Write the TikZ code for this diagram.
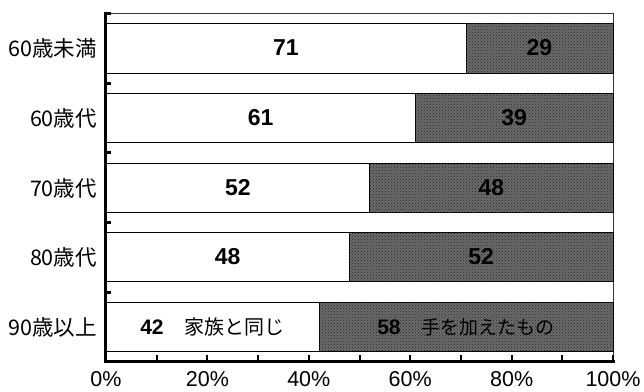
\documentclass[tikz,border=0pt]{standalone}
\usepackage{fontspec}
\setmainfont{Liberation Sans}
\newfontfamily\jp{Noto Sans CJK JP}
\usetikzlibrary{patterns}

\begin{document}
\begin{tikzpicture}[x=5.07pt,y=-1pt,
  own/.style={draw=black,line width=0.8pt,fill=white},
  added/.style={draw=black,line width=0.8pt,fill=black!58,
    postaction={pattern=crosshatch dots,pattern color=black!85}},
  agelabel/.style={left,font=\jp\fontsize{21.5}{25}\selectfont},
  share/.style={font=\bfseries\fontsize{23}{27}\selectfont},
  percent/.style={anchor=base,font=\fontsize{21.5}{25}\selectfont}]
\useasboundingbox (-20.907,0) rectangle (106.114,391);
% frame
\draw [black!80,line width=0.8pt] (0,13) -- (100,13) -- (100,361);
% bars
\draw [own] (0,23.5) rectangle (71,73);
\draw [added] (71,23.5) rectangle (100,73);
\draw [own] (0,93) rectangle (61,142.5);
\draw [added] (61,93) rectangle (100,142.5);
\draw [own] (0,163) rectangle (52,212);
\draw [added] (52,163) rectangle (100,212);
\draw [own] (0,232.5) rectangle (48,281.5);
\draw [added] (48,232.5) rectangle (100,281.5);
\draw [own] (0,302) rectangle (42,351.5);
\draw [added] (42,302) rectangle (100,351.5);
% axes
\draw [line width=3pt] (0,11.5) -- (0,361) -- (100.3,361);
\draw [line width=3pt] (0,13) -- (1,13);
\draw [line width=3pt] (0,83) -- (1,83);
\draw [line width=3pt] (0,152.5) -- (1,152.5);
\draw [line width=3pt] (0,222) -- (1,222);
\draw [line width=3pt] (0,292) -- (1,292);
\draw [line width=2pt] (10,361) -- (10,355);
\draw [line width=2pt] (20,361) -- (20,355);
\draw [line width=2pt] (30,361) -- (30,355);
\draw [line width=2pt] (40,361) -- (40,355);
\draw [line width=2pt] (50,361) -- (50,355);
\draw [line width=2pt] (60,361) -- (60,355);
\draw [line width=2pt] (70,361) -- (70,355);
\draw [line width=2pt] (80,361) -- (80,355);
\draw [line width=2pt] (90,361) -- (90,355);
\draw [line width=2pt] (100,361) -- (100,355);
% age groups
\node [agelabel] (under60) at (-1.1,48) {60歳未満};
\node [agelabel] (sixties) at (-1.1,118) {60歳代};
\node [agelabel] (seventies) at (-1.1,188) {70歳代};
\node [agelabel] (eighties) at (-1.1,257) {80歳代};
\node [agelabel] (over90) at (-1.1,327) {90歳以上};
% shares
\node [share] (own60u) at (35.5,48) {71};
\node [share] (add60u) at (85.5,48) {29};
\node [share] (own60) at (30.5,118) {61};
\node [share] (add60) at (80.5,118) {39};
\node [share] (own70) at (26,188) {52};
\node [share] (add70) at (76,188) {48};
\node [share] (own80) at (24,257) {48};
\node [share] (add80) at (74,257) {52};
\node [share] (own90) at (21,327) {\fontsize{21}{25}\selectfont 42\hspace{1em}{\mdseries\jp\fontsize{20}{24}\selectfont 家族と同じ}};
\node [share] (add90) at (71,327) {\fontsize{21}{25}\selectfont 58\hspace{1em}{\mdseries\jp\fontsize{19}{23}\selectfont 手を加えたもの}};
% percent scale
\node [percent] (p0) at (0,386) {0\%};
\node [percent] (p20) at (20,386) {20\%};
\node [percent] (p40) at (40,386) {40\%};
\node [percent] (p60) at (60,386) {60\%};
\node [percent] (p80) at (80,386) {80\%};
\node [percent] (p100) at (100,386) {100\%};
\end{tikzpicture}
\end{document}
